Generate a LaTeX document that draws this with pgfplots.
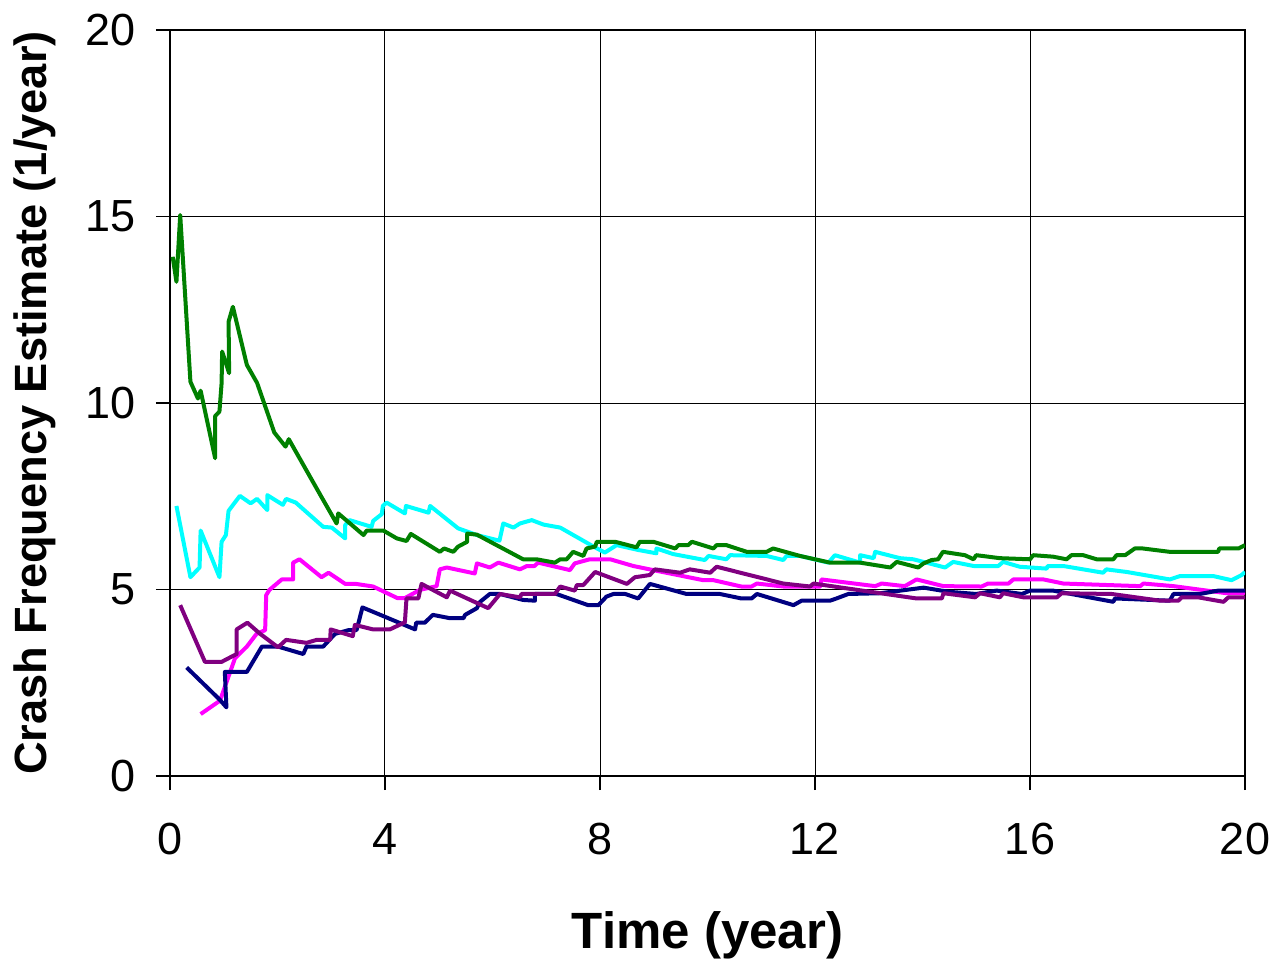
\documentclass[border=0pt]{standalone}
\usepackage{pgfplots}
\pgfplotsset{compat=1.18}
\usepackage{fontspec}
\setmainfont{Liberation Sans}
\definecolor{cgreen}{RGB}{0,128,0}
\definecolor{ccyan}{RGB}{0,255,255}
\definecolor{cmag}{RGB}{255,0,255}
\definecolor{cnavy}{RGB}{0,0,128}
\definecolor{cpurp}{RGB}{128,0,128}
\begin{document}
\begin{tikzpicture}
\path[use as bounding box] (-85pt,-94pt) rectangle (552pt,388pt);
\begin{axis}[
  scale only axis, width=537.5pt, height=373pt,
  at={(0,0)}, anchor=south west,
  xmin=0, xmax=20, ymin=0, ymax=20,
  xtick={0,4,8,12,16,20}, ytick={0,5,10,15,20},
  xtick pos=bottom, ytick pos=left,
  grid=major, major grid style={black, line width=0.5pt},
  axis line style={black, line width=0.6pt},
  tick align=outside, major tick length=7pt,
  tick style={black, line width=0.6pt},
  /pgf/number format/assume math mode=true,
  ticklabel style={font=\fontsize{22.5}{25}\selectfont},
  xticklabel style={yshift=-13pt},
  yticklabel style={xshift=-6.5pt},
  xlabel={Time (year)}, ylabel={Crash Frequency Estimate (1/year)},
  xlabel style={font=\bfseries\fontsize{25.5}{28}\selectfont, at={([yshift=-79.5pt]axis description cs:0.5,0)}, anchor=center},
  ylabel style={font=\bfseries\fontsize{22.6}{26}\selectfont, at={([xshift=-67.5pt]axis description cs:0,0.5)}, anchor=center, rotate=0},
  every axis plot/.append style={line width=2pt, line join=round, mark=none},
  clip=true,
]
\addplot[cmag] coordinates {(0.57,1.66)(0.93,2.02)(1.21,3.16)(1.43,3.47)(1.61,3.81)(1.77,3.91)(1.79,4.85)(1.85,4.99)(2.08,5.27)(2.29,5.27)(2.29,5.72)(2.41,5.81)(2.82,5.33)(2.95,5.45)(3.26,5.15)(3.46,5.15)(3.78,5.08)(4.23,4.77)(4.37,4.77)(4.65,4.99)(4.96,5.09)(5.02,5.54)(5.15,5.59)(5.67,5.43)(5.71,5.70)(5.95,5.59)(6.11,5.72)(6.51,5.54)(6.64,5.63)(6.78,5.63)(6.85,5.72)(7.44,5.52)(7.53,5.70)(7.63,5.74)(7.81,5.81)(8.19,5.81)(8.62,5.63)(8.99,5.52)(9.92,5.25)(10.11,5.25)(10.63,5.08)(10.82,5.08)(10.92,5.16)(11.41,5.08)(12.10,5.08)(12.12,5.27)(13.12,5.09)(13.24,5.16)(13.67,5.09)(13.89,5.27)(14.39,5.09)(15.10,5.08)(15.22,5.16)(15.60,5.16)(15.69,5.27)(16.25,5.27)(16.62,5.16)(18.05,5.09)(18.11,5.16)(18.67,5.09)(19.66,4.90)(19.98,4.90)(20.0,4.99)};
\addplot[cnavy] coordinates {(0.31,2.91)(0.93,2.04)(1.05,1.84)(1.02,2.79)(1.43,2.79)(1.71,3.47)(2.01,3.47)(2.48,3.27)(2.54,3.47)(2.85,3.47)(3.07,3.81)(3.32,3.91)(3.47,3.91)(3.52,4.18)(3.58,4.52)(4.03,4.25)(4.56,3.93)(4.58,4.11)(4.74,4.11)(4.89,4.32)(5.21,4.23)(5.46,4.23)(5.49,4.32)(5.71,4.50)(5.77,4.67)(5.95,4.88)(6.14,4.88)(6.57,4.72)(6.79,4.70)(6.79,4.88)(7.19,4.88)(7.78,4.58)(7.97,4.58)(8.12,4.81)(8.25,4.88)(8.47,4.88)(8.71,4.76)(8.93,5.15)(9.61,4.88)(10.23,4.88)(10.63,4.76)(10.82,4.76)(10.92,4.88)(11.60,4.58)(11.75,4.70)(12.28,4.70)(12.40,4.76)(12.62,4.88)(13.21,4.90)(14.02,5.05)(14.48,4.94)(15.00,4.88)(15.38,4.97)(15.85,4.88)(16.00,4.97)(16.43,4.97)(17.55,4.67)(17.58,4.76)(18.60,4.70)(18.67,4.88)(19.16,4.88)(19.50,4.97)(20.0,4.97)};
\addplot[cpurp] coordinates {(0.19,4.58)(0.65,3.06)(0.96,3.06)(1.24,3.27)(1.24,3.93)(1.44,4.11)(1.67,3.82)(2.01,3.45)(2.16,3.65)(2.54,3.57)(2.73,3.65)(2.98,3.65)(2.99,3.93)(3.40,3.75)(3.44,4.05)(3.78,3.93)(4.09,3.93)(4.37,4.12)(4.40,4.76)(4.62,4.76)(4.68,5.15)(5.15,4.79)(5.21,4.97)(5.92,4.50)(6.14,4.88)(6.51,4.79)(6.54,4.88)(7.16,4.88)(7.26,5.08)(7.53,4.97)(7.57,5.12)(7.69,5.12)(7.91,5.47)(8.50,5.15)(8.65,5.33)(8.80,5.36)(8.93,5.39)(9.02,5.54)(9.49,5.45)(9.67,5.54)(10.05,5.45)(10.17,5.61)(11.41,5.16)(11.91,5.08)(11.97,5.16)(13.89,4.76)(14.36,4.76)(14.39,4.90)(14.98,4.79)(15.07,4.90)(15.44,4.79)(15.50,4.90)(15.88,4.79)(16.50,4.79)(16.59,4.90)(17.52,4.88)(18.42,4.70)(18.76,4.70)(18.82,4.79)(19.13,4.79)(19.60,4.67)(19.69,4.79)(20.0,4.79)};
\addplot[ccyan] coordinates {(0.12,7.24)(0.38,5.33)(0.55,5.59)(0.57,6.58)(0.92,5.33)(0.96,6.28)(1.04,6.46)(1.09,7.11)(1.30,7.51)(1.50,7.31)(1.62,7.43)(1.81,7.13)(1.81,7.53)(2.10,7.27)(2.16,7.43)(2.34,7.33)(2.85,6.68)(3.01,6.66)(3.26,6.37)(3.26,6.73)(3.34,6.86)(3.75,6.68)(3.78,6.84)(3.94,7.02)(3.96,7.24)(4.03,7.33)(4.37,7.04)(4.39,7.24)(4.81,7.06)(4.84,7.24)(5.36,6.64)(5.71,6.46)(6.07,6.33)(6.13,6.31)(6.20,6.77)(6.39,6.66)(6.51,6.77)(6.73,6.86)(6.95,6.74)(7.26,6.66)(7.88,6.15)(8.09,5.99)(8.31,6.19)(8.71,6.06)(9.05,5.97)(9.05,6.10)(9.36,5.95)(9.95,5.79)(10.02,5.90)(10.35,5.81)(10.42,5.92)(11.10,5.90)(11.41,5.79)(11.47,5.90)(11.72,5.90)(12.25,5.72)(12.37,5.92)(12.84,5.72)(12.84,5.92)(13.09,5.84)(13.12,6.01)(13.58,5.84)(13.83,5.81)(14.42,5.59)(14.57,5.74)(14.95,5.63)(15.41,5.63)(15.50,5.74)(15.81,5.61)(16.31,5.56)(16.33,5.63)(16.62,5.63)(17.36,5.45)(17.42,5.54)(17.80,5.47)(18.60,5.27)(18.79,5.36)(19.41,5.36)(19.75,5.25)(19.94,5.39)(20.0,5.47)};
\addplot[cgreen] coordinates {(0.05,13.92)(0.12,13.25)(0.19,15.04)(0.38,10.57)(0.52,10.12)(0.57,10.33)(0.84,8.52)(0.84,9.65)(0.92,9.77)(0.96,10.53)(0.97,11.38)(1.10,10.80)(1.09,12.18)(1.17,12.58)(1.43,11.02)(1.62,10.54)(1.94,9.21)(2.15,8.83)(2.21,9.03)(2.85,7.40)(3.10,6.77)(3.13,7.04)(3.35,6.77)(3.60,6.46)(3.66,6.58)(3.97,6.58)(4.22,6.37)(4.40,6.30)(4.48,6.49)(5.02,6.01)(5.10,6.10)(5.27,6.01)(5.36,6.15)(5.53,6.28)(5.53,6.50)(5.71,6.47)(6.57,5.81)(6.82,5.81)(7.16,5.72)(7.26,5.81)(7.38,5.81)(7.50,6.01)(7.69,5.90)(7.75,6.10)(7.91,6.15)(7.94,6.28)(8.28,6.28)(8.68,6.13)(8.74,6.28)(8.99,6.28)(9.40,6.10)(9.46,6.19)(9.64,6.19)(9.71,6.28)(10.11,6.10)(10.17,6.19)(10.35,6.19)(10.73,6.01)(11.10,6.01)(11.22,6.10)(11.72,5.90)(12.28,5.72)(12.84,5.72)(13.40,5.59)(13.52,5.74)(13.92,5.59)(14.02,5.70)(14.17,5.79)(14.29,5.81)(14.38,6.01)(14.79,5.92)(14.95,5.81)(15.00,5.92)(15.44,5.84)(16.00,5.81)(16.06,5.92)(16.43,5.88)(16.68,5.81)(16.77,5.92)(16.99,5.92)(17.24,5.81)(17.55,5.81)(17.61,5.92)(17.77,5.92)(17.95,6.10)(18.10,6.10)(18.60,6.01)(19.50,6.01)(19.52,6.10)(19.88,6.10)(20.0,6.19)};
\end{axis}
\end{tikzpicture}
\end{document}
